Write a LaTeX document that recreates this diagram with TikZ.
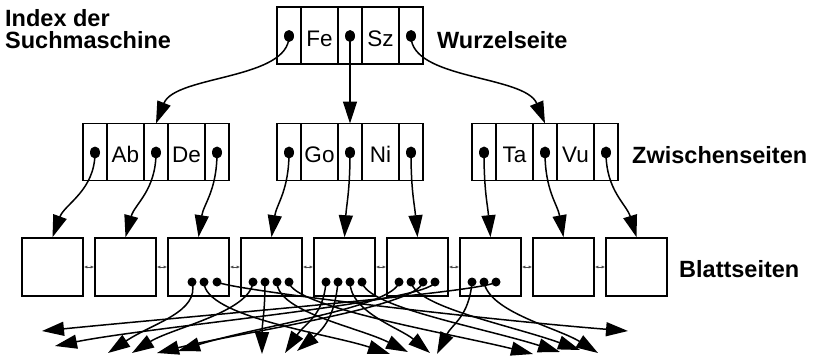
\documentclass[tikz,border=0pt]{standalone}
\usepackage{fontspec}
\setmainfont{Liberation Sans}
\usetikzlibrary{arrows.meta,shapes.geometric}
\begin{document}
\begin{tikzpicture}[x=1pt,y=-1pt,
  cell/.style={draw, line width=1.2pt, minimum height=57pt, inner sep=0pt, outer sep=0pt,
    text height=21pt, text depth=0pt, font=\fontsize{22.5}{24}\selectfont},
  pcell/.style={cell, minimum width=24pt},
  kcell/.style={cell, minimum width=37pt},
  dot/.style={ellipse, fill=black, draw=none, inner sep=0pt, minimum width=10pt, minimum height=12pt},
  ldot/.style={circle, fill=black, draw=none, inner sep=0pt, minimum size=9pt},
  leaf/.style={draw, line width=1.6pt, minimum width=61pt, minimum height=58pt, inner sep=0pt},
  conn/.style={line width=1.5pt, -{Triangle[length=22pt,width=14pt]}},
  gapmark/.style={line width=0.7pt, gray!60!black, {Latex[length=3.5pt,width=3pt]}-{Latex[length=3.5pt,width=3pt]}},
  lbl/.style={inner sep=0pt, font=\bfseries\fontsize{23.5}{26}\selectfont}
]
\useasboundingbox (0,0) rectangle (813,356);

\newcommand{\idxpage}[5]{%
  \node[pcell] (#1c1) at (#2+12,#3) {};
  \node[kcell] (#1c2) at (#2+42.5,#3) {#4};
  \node[pcell] (#1c3) at (#2+73,#3) {};
  \node[kcell] (#1c4) at (#2+103.5,#3) {#5};
  \node[pcell] (#1c5) at (#2+134,#3) {};
  \node[dot] (#1d1) at (#2+12,#3+0.5) {};
  \node[dot] (#1d2) at (#2+73,#3+0.5) {};
  \node[dot] (#1d3) at (#2+134,#3+0.5) {};
}

% index pages
\idxpage{r}{277}{35.5}{Fe}{Sz}
\idxpage{l}{83}{152}{Ab}{De}
\idxpage{m}{277}{152}{Go}{Ni}
\idxpage{q}{472}{152}{Ta}{Vu}

% leaf pages
\foreach \i in {1,...,9} {
  \node[leaf] (L\i) at ({22+30.5+73*(\i-1)},267) {};
}
\foreach \i/\j in {1/2,2/3,3/4,4/5,5/6,6/7,7/8,8/9} {
  \draw[gapmark] (L\i.east) -- (L\j.west);
}

% labels
\node[lbl, anchor=base west] (idx1) at (5,26) {Index der};
\node[lbl, anchor=base west] (idx2) at (5,48) {Suchmaschine};
\node[lbl, anchor=base west] (wz) at (437,48) {Wurzelseite};
\node[lbl, anchor=base west] (zw) at (632,163) {Zwischenseiten};
\node[lbl, anchor=base west] (bl) at (679,277) {Blattseiten};

% root -> intermediate
\draw[conn] (rd1.center) .. controls (289,80) and (175,75) .. (lc3.north);
\draw[conn] (rd2.center) -- (mc3.north);
\draw[conn] (rd3.center) .. controls (411,80) and (525,75) .. (qc3.north);

% intermediate -> leaves
\draw[conn] (ld1.center) .. controls +(0,38) and +(12,-33) .. (L1.north);
\draw[conn] (ld2.center) .. controls +(0,38) and +(9,-33) .. (L2.north);
\draw[conn] (ld3.center) .. controls +(0,38) and +(5,-33) .. (L3.north);
\draw[conn] (md1.center) .. controls +(0,38) and +(5,-33) .. (L4.north);
\draw[conn] (md2.center) .. controls +(0,38) and +(2,-33) .. (L5.north);
\draw[conn] (md3.center) .. controls +(0,38) and +(-3,-33) .. (L6.north);
\draw[conn] (qd1.center) .. controls +(0,38) and +(-3,-33) .. (L7.north);
\draw[conn] (qd2.center) .. controls +(0,38) and +(-6,-33) .. (L8.north);
\draw[conn] (qd3.center) .. controls +(0,38) and +(-10,-33) .. (L9.north);

% entries in leaf pages
\node[ldot] (a1) at (192,282) {};
\node[ldot] (a2) at (204,282) {};
\node[ldot] (a3) at (217,282) {};
\node[ldot] (b1) at (253,282) {};
\node[ldot] (b2) at (265,282) {};
\node[ldot] (b3) at (277,282) {};
\node[ldot] (b4) at (289,282) {};
\node[ldot] (c1) at (326,282) {};
\node[ldot] (c2) at (338,282) {};
\node[ldot] (c3) at (350,282) {};
\node[ldot] (c4) at (362,282) {};
\node[ldot] (d1) at (399,282) {};
\node[ldot] (d2) at (411,282) {};
\node[ldot] (d3) at (423,282) {};
\node[ldot] (d4) at (435,282) {};
\node[ldot] (e1) at (472,282) {};
\node[ldot] (e2) at (484,282) {};
\node[ldot] (e3) at (496,282) {};

% document targets
\coordinate (ta1) at (108,353);
\coordinate (ta2) at (390,354);
\coordinate (ta3) at (628,331);
\coordinate (tb1) at (132,353);
\coordinate (tb2) at (262,354);
\coordinate (tb3) at (408,352);
\coordinate (tb4) at (533,354);
\coordinate (tc1) at (285,353);
\coordinate (tc2) at (297,351);
\coordinate (tc3) at (430,353);
\coordinate (tc4) at (560,352);
\coordinate (td1) at (178,351);
\coordinate (td2) at (580,350);
\coordinate (td3) at (157,353);
\coordinate (td4) at (55,346);
\coordinate (te1) at (437,354);
\coordinate (te2) at (598,353);
\coordinate (te3) at (42,331);

\draw[conn] (a1.center) .. controls +(8,30) and +(45,-30) .. (ta1);
\draw[conn] (a2.center) .. controls +(0,35) and +(-60,-20) .. (ta2);
\draw[conn] (a3.center) .. controls +(15,8) and +(-150,-12) .. (ta3);
\draw[conn] (b1.center) .. controls +(-3,30) and +(40,-25) .. (tb1);
\draw[conn] (b2.center) .. controls +(0,30) and +(0,-30) .. (tb2);
\draw[conn] (b3.center) .. controls +(0,30) and +(-50,-25) .. (tb3);
\draw[conn] (b4.center) .. controls +(3,25) and +(-80,-20) .. (tb4);
\draw[conn] (c1.center) .. controls +(-3,35) and +(20,-30) .. (tc1);
\draw[conn] (c2.center) .. controls +(-3,30) and +(30,-25) .. (tc2);
\draw[conn] (c3.center) .. controls +(0,30) and +(-30,-25) .. (tc3);
\draw[conn] (c4.center) .. controls +(5,25) and +(-80,-25) .. (tc4);
\draw[conn] (d1.center) .. controls +(-5,25) and +(80,-25) .. (td1);
\draw[conn] (d2.center) .. controls +(5,25) and +(-70,-25) .. (td2);
\draw[conn] (d3.center) .. controls +(-5,25) and +(80,-20) .. (td3);
\draw[conn] (d4.center) .. controls +(-5,20) and +(100,-20) .. (td4);
\draw[conn] (e1.center) .. controls +(-3,35) and +(15,-30) .. (te1);
\draw[conn] (e2.center) .. controls +(5,30) and +(-40,-25) .. (te2);
\draw[conn] (e3.center) .. controls +(-10,10) and +(150,-15) .. (te3);
\end{tikzpicture}
\end{document}
